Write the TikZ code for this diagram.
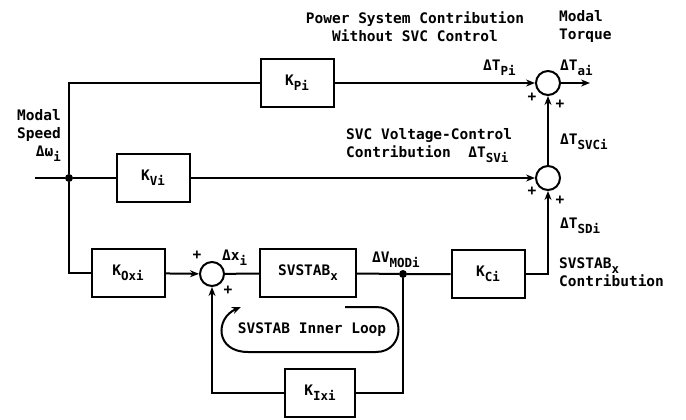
\documentclass[tikz,border=0pt]{standalone}
\usepackage{fontspec}
\setmonofont{DejaVu Sans Mono}
\usetikzlibrary{positioning,arrows.meta}
\newcommand\dgfont{\ttfamily\bfseries\fontsize{14.5}{18}\selectfont}
\newcommand\dsub[1]{\raisebox{-5pt}{\fontsize{12.5}{12.5}\selectfont #1}}
\tikzset{
  blk/.style={draw,line width=2pt,minimum width=73pt,minimum height=48pt,inner sep=0pt,font=\dgfont},
  sumc/.style={circle,draw,line width=2pt,minimum size=24pt,inner sep=0pt},
  jdot/.style={circle,fill,minimum size=8pt,inner sep=0pt},
  txt/.style={font=\dgfont,inner sep=0pt},
  wire/.style={line width=2pt},
  sig/.style={-{Stealth[length=9pt,width=7pt]},line width=2pt},
}
\begin{document}
\begin{tikzpicture}[x=1pt,y=-1pt]
  \useasboundingbox (0,0) rectangle (686,420);
  % blocks
  \node[blk] (kp)  at (297,83)  {K\dsub{Pi}};
  \node[blk] (kv)  at (153,178) {K\dsub{Vi}};
  \node[blk] (kox) at (128,273) {K\dsub{Oxi}};
  \node[blk,minimum width=96pt] (ss) at (308,273) {SVSTAB\dsub{x}};
  \node[blk] (kc)  at (488,274) {K\dsub{Ci}};
  \node[blk,minimum width=70pt] (kix) at (320,393) {K\dsub{Ixi}};
  % summing points and branch points
  \node[sumc] (sum1) at (548,83)  {};
  \node[sumc] (sum2) at (548,178) {};
  \node[sumc] (sum3) at (212,274) {};
  \node[jdot] (jn)  at (69,178)  {};
  \node[jdot] (jm)  at (403,274) {};
  \coordinate (win)  at (35,178);
  \coordinate (tout) at (590,83);
  % connectors
  \draw[wire] (win) -- (jn) -- (kv);
  \draw[wire] (jn) |- (kp);
  \draw[wire] (jn) |- (kox);
  \foreach \a/\b in {kp/sum1,kv/sum2,kox/sum3,sum2/sum1,sum1/tout}
    \draw[sig] (\a) -- (\b);
  \draw[wire] (sum3) -- (ss) -- (jm) -- (kc);
  \draw[sig] (kc.east) -| (sum2.south);
  \draw[wire] (jm) |- (kix.east);
  \draw[sig] (kix.west) -| (sum3.south);
  % inner loop marker
  \node[txt] (loop) at (312,330) {SVSTAB Inner Loop};
  \draw[sig] (345,307) -- (376,307) .. controls (406,307) and (406,352) .. (376,352)
    -- (248,352) .. controls (215,352) and (215,318) .. (241,307);
  % signs
  \node[txt] (p1a) at (532,97)  {+};
  \node[txt] (p1b) at (560,104) {+};
  \node[txt] (p2a) at (532,191) {+};
  \node[txt] (p2b) at (560,200) {+};
  \node[txt] (p3a) at (197,255) {+};
  \node[txt] (p3b) at (228,290) {+};
  % labels
  \node[txt,align=center] (pwr) at (415,27) {Power System Contribution\\Without SVC Control};
  \node[txt,align=left,anchor=west] (torq) at (559,27) {Modal\\Torque};
  \node[txt,anchor=west] (tpi) at (483,68) {ΔT\dsub{Pi}};
  \node[txt,anchor=west] (tai) at (560,68) {ΔT\dsub{ai}};
  \node[txt,align=right,anchor=east] (spd) at (61,135) {Modal\\Speed\\Δω\dsub{i}};
  \node[txt,align=left,anchor=west] (svc) at (346,146) {SVC Voltage-Control\\Contribution~~ΔT\dsub{SVi}};
  \node[txt,anchor=west] (tsvc) at (560,142) {ΔT\dsub{SVCi}};
  \node[txt,anchor=west] (tsd)  at (560,226) {ΔT\dsub{SDi}};
  \node[txt,align=left,anchor=west] (sdc) at (559,272) {SVSTAB\dsub{x}\\Contribution};
  \node[txt,anchor=west] (vmod) at (372,260) {ΔV\dsub{MODi}};
  \node[txt,anchor=west] (dx)   at (222,258) {Δx\dsub{i}};
\end{tikzpicture}
\end{document}
